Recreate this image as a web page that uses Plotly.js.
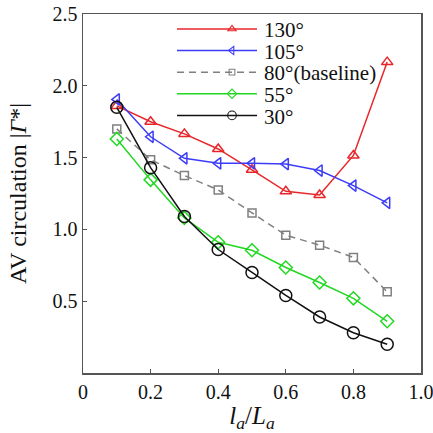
<!DOCTYPE html>
<html><head><meta charset="utf-8">
<script src="https://cdn.plot.ly/plotly-3.0.1.min.js"></script>
<style>html,body{margin:0;padding:0;background:#fff}</style>
</head><body>
<div id="chart" style="width:433px;height:433px"></div>
<script>
const xVals = [0.1, 0.2, 0.3, 0.4, 0.5, 0.6, 0.7, 0.8, 0.9];
const seriesNames = ['130°', '105°', '80°(baseline)', '55°', '30°'];
const y130 = [1.86, 1.75, 1.665, 1.56, 1.415, 1.265, 1.24, 1.515, 2.165];
const y105 = [1.905, 1.645, 1.495, 1.46, 1.46, 1.455, 1.41, 1.305, 1.185];
const y80  = [1.70, 1.485, 1.375, 1.275, 1.115, 0.96, 0.89, 0.805, 0.565];
const y55  = [1.63, 1.345, 1.08, 0.91, 0.855, 0.735, 0.63, 0.52, 0.36];
const y30  = [1.85, 1.43, 1.09, 0.86, 0.70, 0.54, 0.39, 0.28, 0.20];
const xTickVals = [0, 0.2, 0.4, 0.6, 0.8, 1.0];
const xTickText = ['0', '0.2', '0.4', '0.6', '0.8', '1.0'];
const yTickVals = [0.5, 1.0, 1.5, 2.0, 2.5];
const yTickText = ['0.5', '1.0', '1.5', '2.0', '2.5'];

const serif = 'Liberation Serif, Times New Roman, serif';
function tr(y, name, color, symbol, size, dash) {
  return {
    x: xVals, y: y, name: name, type: 'scatter', mode: 'lines+markers',
    line: {color: color, width: 1.5, dash: dash || 'solid'},
    marker: {symbol: symbol, size: size, color: color, line: {color: color, width: 1.5}}
  };
}
const data = [
  tr(y130, seriesNames[0], '#e8262a', 'triangle-up-open', 10),
  tr(y105, seriesNames[1], '#3c3cf8', 'triangle-left-open', 10),
  tr(y80,  seriesNames[2], '#808080', 'square-open', 8, '7px,5px'),
  tr(y55,  seriesNames[3], '#22d822', 'diamond-open', 10),
  tr(y30,  seriesNames[4], '#111111', 'circle-open', 12)
];
const axisCommon = {
  showgrid: false, zeroline: false, showline: true, mirror: true,
  linecolor: '#555', linewidth: 1.5, ticks: 'inside', ticklen: 4,
  tickcolor: '#555', tickwidth: 1,
  tickfont: {family: serif, size: 20, color: '#111'}
};
const layout = {
  width: 433, height: 433,
  margin: {l: 83, r: 12, t: 14, b: 60},
  paper_bgcolor: '#fff', plot_bgcolor: '#fff',
  font: {family: serif},
  showlegend: true,
  legend: {x: 0.27, y: 1.0, xanchor: 'left', yanchor: 'top',
           bgcolor: 'rgba(0,0,0,0)', borderwidth: 0, tracegroupgap: 0,
           itemwidth: 60,
           font: {family: serif, size: 21, color: '#111'}},
  xaxis: Object.assign({}, axisCommon, {
    range: [0, 1.0], tickvals: xTickVals, ticktext: xTickText,
    ticklabeloverflow: 'allow',
    title: {text: '<i>l</i><sub><i>a</i></sub>/<i>L</i><sub><i>a</i></sub>',
            font: {family: serif, size: 25, color: '#111'}, standoff: 4}
  }),
  yaxis: Object.assign({}, axisCommon, {
    range: [0, 2.5], tickvals: yTickVals, ticktext: yTickText,
    title: {text: 'AV circulation |<i>Γ</i>*|',
            font: {family: serif, size: 24, color: '#111'}, standoff: 19}
  })
};
function parseT(s) {
  const m = /translate\(\s*([-\d.e]+)[ ,]+([-\d.e]+)/.exec(s || '');
  return m ? {x: +m[1], y: +m[2]} : {x: 0, y: 0};
}
Plotly.newPlot('chart', data, layout, {displayModeBar: false, staticPlot: true}).then(function () {
  const leg = document.querySelector('.legend');
  if (!leg) return;
  leg.querySelectorAll('[clip-path]').forEach(function (e) { e.removeAttribute('clip-path'); });
  const items = leg.querySelectorAll('g.traces');
  const t0 = parseT(items[0].getAttribute('transform'));
  items.forEach(function (it, i) {
    it.setAttribute('transform', 'translate(' + t0.x + ',' + (t0.y + i * 21.6) + ')');
  });
  leg.querySelectorAll('.legendlines path').forEach(function (p) { p.setAttribute('d', 'M-20,0h80'); });
  leg.querySelectorAll('text.legendtext').forEach(function (t) { t.setAttribute('x', 67); });
  leg.querySelectorAll('.legendpoints path.scatterpts').forEach(function (p) {
    p.setAttribute('transform', (p.getAttribute('transform') || '') + ' scale(0.72)');
  });
  const pt = items[0].querySelector('.legendlines path').getBoundingClientRect();
  const cx = pt.x + 40, cy = pt.y + pt.height / 2;
  const lt = parseT(leg.getAttribute('transform'));
  leg.setAttribute('transform', 'translate(' + (lt.x + 217 - cx) + ',' + (lt.y + 29 - cy) + ')');
});
</script>
</body></html>
